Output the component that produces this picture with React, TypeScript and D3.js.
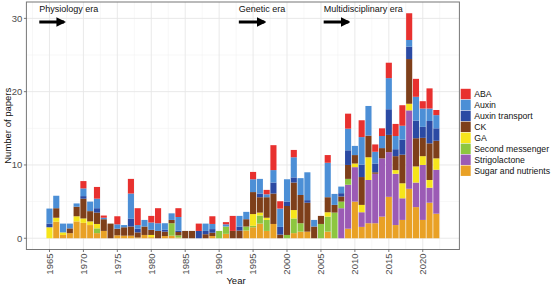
import React from "react";
import * as d3 from "d3";

const years: number[] = d3.range(1965, 2023);
const categories = ["ABA", "Auxin", "Auxin transport", "CK", "GA", "Second messenger", "Strigolactone", "Sugar and nutrients"];
const colors = ["#E8312F", "#4C8FD6", "#2B4AA3", "#7E3F1A", "#F6E51B", "#8DC640", "#9B5BB5", "#E9A125"];

// per-year values, 1965..2022
const sugar = [0, 2.25, 0.45, 0.7, 2.3, 2.1, 1.8, 0.7, 1.0, 0, 0.4, 0.35, 0.35, 0.1, 0.45, 0.15, 0, 0.3, 0.35, 0.1, 0, 0, 0, 0, 0.3, 0, 0.6, 0, 0, 1.05, 1.5, 2.0, 1.0, 1.95, 0, 0, 0.7, 0.9, 0.9, 0, 0, 0.9, 0, 0, 1.3, 5.0, 1.55, 2.05, 2.05, 2.95, 5.65, 1.8, 2.5, 6.75, 4.25, 2.5, 4.85, 3.35];
const strigolactone = [0, 0, 0, 0, 0, 0, 0, 0, 0, 0, 0, 0, 0, 0, 0, 0, 0, 0, 0, 0, 0, 0, 0, 0, 0, 0, 0, 0, 0, 0, 0, 0, 0, 0, 0, 0, 0, 0, 0, 0, 0, 0, 0, 4.1, 6.0, 4.7, 2.0, 5.9, 6.75, 7.95, 6.1, 7.0, 2.95, 10.7, 3.35, 7.5, 2.05, 6.0];
const secondMessenger = [0, 0, 0, 0, 0, 0, 0, 0.65, 0, 0, 0, 0, 0, 0, 0, 0, 0, 0, 1.7, 0.3, 0, 0, 0, 0, 0, 1.0, 1.0, 0, 0, 0.55, 0.2, 1.1, 1.5, 0, 0, 0.45, 2.0, 1.15, 0, 0, 1.95, 2.05, 3.5, 0.9, 0.8, 0, 0, 0, 0, 0, 0, 0, 0, 0, 0, 0, 0, 0];
const ga = [1.5, 0.55, 0.35, 0, 0.7, 0.6, 0.5, 0.6, 0, 0, 0, 0, 0, 0, 0, 0.3, 0, 0, 0, 0, 0, 0, 0, 0, 0, 0, 0, 0, 0, 0, 1.6, 0.4, 0.3, 0, 0, 0, 1.15, 0, 0, 0, 0, 0.6, 0, 0, 0, 0.5, 1.0, 3.1, 0, 0, 0, 0.5, 2.05, 0.9, 2.2, 1.2, 1.05, 1.55];
const ck = [0, 1.3, 0, 0.65, 1.3, 2.7, 1.4, 1.55, 1.6, 2.0, 0.9, 1.15, 1.25, 0.7, 1.15, 0.7, 1.0, 0.6, 0.45, 0.45, 1.0, 1.0, 0, 0.55, 0.45, 0, 0, 1.0, 1.05, 1.0, 3.0, 2.1, 2.8, 4.15, 0.5, 3.95, 3.75, 3.85, 3.95, 1.6, 1.1, 2.05, 1.05, 0.7, 1.9, 1.15, 3.8, 2.95, 0.2, 1.4, 2.35, 1.9, 3.9, 6.1, 3.85, 2.5, 5.0, 2.4];
const auxinTransport = [0.5, 0, 0, 0, 0, 0.35, 0, 0.6, 0, 0, 0, 0, 1.1, 0.5, 0, 0, 0, 0.25, 0, 0.2, 0, 0, 1.0, 0.45, 0.5, 0, 0, 0, 0.55, 0, 0, 0.5, 0, 1.5, 1.05, 0.6, 0.7, 0, 0.35, 0, 0, 0, 0, 0.45, 2.0, 0, 1.7, 0, 1.2, 0, 3.5, 0.95, 2.05, 1.7, 2.4, 1.5, 3.05, 1.7];
const auxin = [2.05, 1.7, 1.2, 0.65, 0.45, 1.05, 1.3, 1.3, 0.2, 0, 0.6, 0.3, 3.4, 0.5, 0.9, 1.0, 1.05, 0.9, 0.9, 1.85, 0, 0, 0, 1.0, 0.7, 0, 0.3, 0, 1.45, 1.0, 1.75, 2.0, 0.4, 1.7, 2.5, 3.05, 2.75, 2.3, 3.8, 0.9, 0, 4.7, 1.5, 0.9, 2.95, 1.25, 3.75, 4.05, 1.6, 1.65, 4.25, 1.8, 1.9, 0.9, 3.25, 2.5, 1.7, 1.8];
const aba = [0, 0, 0, 0, 0, 1.0, 0, 1.6, 0.3, 0, 1.1, 0, 2.0, 2.3, 0, 0.9, 2.05, 0, 0, 1.2, 0, 0, 1.0, 0, 1.05, 0, 0.3, 2.05, 0, 0, 1.0, 0, 0.6, 3.4, 1.0, 0, 1.0, 0, 0, 0, 0, 1.05, 0, 0, 2.05, 0, 2.3, 0, 1.0, 1.05, 2.1, 1.65, 2.8, 3.65, 2.45, 1.0, 2.75, 0.7];

const xTicks = [1965, 1970, 1975, 1980, 1985, 1990, 1995, 2000, 2005, 2010, 2015, 2020];
const yTicks = [0, 10, 20, 30];
const eras = [
  { label: "Physiology era", x0: 1963.5, x1: 1967.6 },
  { label: "Genetic era", x0: 1992.9, x1: 1997.1 },
  { label: "Multidisciplinary era", x0: 2005.4, x1: 2009.5 },
];

const W = 553, H = 287;
const FONT = "'Liberation Sans', Arial, sans-serif";

export default function App() {
  const seriesArrays = [aba, auxin, auxinTransport, ck, ga, secondMessenger, strigolactone, sugar];
  const rows = years.map((yr, i) => {
    const r: any = { year: yr };
    categories.forEach((c, k) => (r[c] = seriesArrays[k][i]));
    return r;
  });
  const stackKeys = [...categories].reverse(); // bottom = sugar
  const stacked = d3.stack<any>().keys(stackKeys)(rows);
  const maxTotal = d3.max(rows, (r: any) => d3.sum(categories, (c) => r[c])) as number;

  const left = 26.4, right = 459.4, top = 2, bottom = 249.5;
  const x = d3.scaleLinear().domain([1964.5 - 2.9, 2022.5 + 2.9]).range([left, right]);
  const yPad = maxTotal * 0.05;
  const y = d3.scaleLinear().domain([-yPad, maxTotal + yPad]).range([bottom, top]);
  const bw = (x(1) - x(0)) * 0.9;

  const minorX = d3.range(1962.5, 2025, 5);
  const minorY = [5, 15, 25];
  const colorOf = (key: string) => colors[categories.indexOf(key)];

  return (
    <svg width={W} height={H} style={{ position: "absolute", left: 0, top: 0, background: "#fff" }} fontFamily={FONT}>
      <rect x={left} y={top} width={right - left} height={bottom - top} fill="#fff" />
      {minorX.map((v) => (
        <line key={"mx" + v} x1={x(v)} x2={x(v)} y1={top} y2={bottom} stroke="#F2F2F2" strokeWidth={0.6} />
      ))}
      {minorY.map((v) => (
        <line key={"my" + v} x1={left} x2={right} y1={y(v)} y2={y(v)} stroke="#F2F2F2" strokeWidth={0.6} />
      ))}
      {xTicks.map((v) => (
        <line key={"gx" + v} x1={x(v)} x2={x(v)} y1={top} y2={bottom} stroke="#E6E6E6" strokeWidth={0.9} />
      ))}
      {yTicks.map((v) => (
        <line key={"gy" + v} x1={left} x2={right} y1={y(v)} y2={y(v)} stroke="#E6E6E6" strokeWidth={0.9} />
      ))}
      {stacked.map((layer) => (
        <g key={layer.key} fill={colorOf(layer.key)}>
          {layer.map((d, i) =>
            d[1] - d[0] > 0 ? (
              <rect key={i} x={x(years[i]) - bw / 2} width={bw} y={y(d[1])} height={y(d[0]) - y(d[1])} />
            ) : null
          )}
        </g>
      ))}
      <rect x={left} y={top} width={right - left} height={bottom - top} fill="none" stroke="#777" strokeWidth={1} />
      {/* y axis */}
      {yTicks.map((v) => (
        <g key={"yt" + v}>
          <line x1={left - 2.5} x2={left} y1={y(v)} y2={y(v)} stroke="#555" strokeWidth={0.8} />
          <text x={left - 4} y={y(v)} dy="0.35em" textAnchor="end" fontSize={9.5} fill="#4D4D4D">{v}</text>
        </g>
      ))}
      {/* x axis */}
      {xTicks.map((v) => (
        <g key={"xt" + v}>
          <line x1={x(v)} x2={x(v)} y1={bottom} y2={bottom + 2.5} stroke="#555" strokeWidth={0.8} />
          <text transform={`translate(${x(v)},${bottom + 4}) rotate(-90)`} dy="0.35em" textAnchor="end" fontSize={9.5} fill="#4D4D4D">{v}</text>
        </g>
      ))}
      <text x={236} y={284} textAnchor="middle" fontSize={9.5} fill="#111">Year</text>
      <text transform={`translate(8,${(top + bottom) / 2}) rotate(-90)`} textAnchor="middle" dy="0.35em" fontSize={9.5} fill="#111">Number of papers</text>
      {/* eras */}
      <defs>
        <marker id="ah" viewBox="0 0 10 10" refX="8" refY="5" markerWidth="3.2" markerHeight="3.2" orient="auto">
          <path d="M0,0 L10,5 L0,10 z" fill="#000" />
        </marker>
      </defs>
      {eras.map((e) => (
        <g key={e.label}>
          <text x={x(e.x0)} y={8.5} dy="0.35em" fontSize={9} fill="#111">{e.label}</text>
          <line x1={x(e.x0)} x2={x(e.x1) - 3} y1={22} y2={22} stroke="#000" strokeWidth={3} markerEnd="url(#ah)" />
        </g>
      ))}
      {/* legend */}
      {categories.map((c, i) => (
        <g key={c} transform={`translate(460.7,${94 - 5.2 + i * 10.96})`}>
          <rect width={10} height={10.4} fill={colors[i]} />
          <text x={13.5} y={5.2} dy="0.35em" fontSize={8.7} fill="#111">{c}</text>
        </g>
      ))}
    </svg>
  );
}
